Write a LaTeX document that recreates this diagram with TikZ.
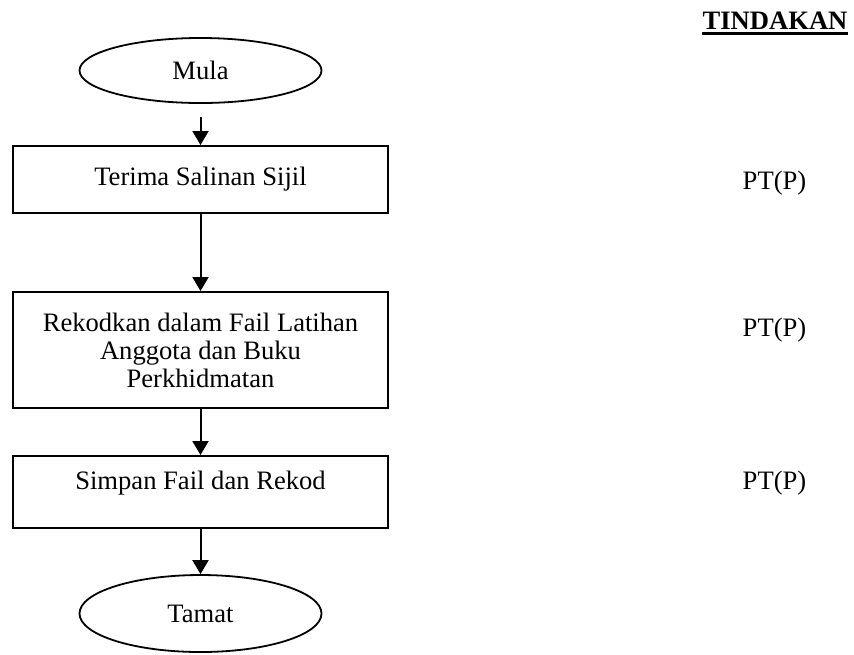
\documentclass[tikz,border=0pt]{standalone}
\usepackage{fontspec}
\setmainfont{Liberation Serif}
\usetikzlibrary{shapes.geometric,arrows.meta}
\tikzset{
  every node/.style={font=\fontsize{13.3}{14}\selectfont},
  termnode/.style={ellipse,draw,line width=0.9pt,minimum width=121pt,inner sep=0pt},
  stepbox/.style={rectangle,draw,line width=1pt,minimum width=187.5pt,inner sep=0pt,align=center},
  flowarrow/.style={line width=1pt,-{Triangle[length=7pt,width=8pt]}},
  actor/.style={inner sep=0pt}
}
\begin{document}
\begin{tikzpicture}[x=0.5pt,y=-0.5pt]
\useasboundingbox (0,0) rectangle (854,654);
% flow
\node[termnode,minimum height=32.5pt] (mula) at (200.5,70.5) {Mula};
\coordinate (a0) at (200.5,117);
\node[stepbox,minimum height=33.5pt] (box1) at (200.5,179.5) {Terima Salinan Sijil};
\node[stepbox,minimum height=58pt] (box2) at (200.5,350) {Rekodkan dalam Fail Latihan\\Anggota dan Buku\\Perkhidmatan};
\node[stepbox,minimum height=36pt] (box3) at (200.5,492) {};
\node[actor] (t3) at (200.5,483) {Simpan Fail dan Rekod};
\node[termnode,minimum height=38.5pt] (tamat) at (200.5,613.5) {Tamat};
\draw[flowarrow] (a0) -- (box1.north);
\draw[flowarrow] (box1.south) -- (box2.north);
\draw[flowarrow] (box2.south) -- (box3.north);
\draw[flowarrow] (box3.south) -- (tamat.north);
% actions column
\node[actor,anchor=base] (tind) at (775,29) {\textbf{TINDAKAN}};
\draw[line width=1.5pt] ([yshift=-2pt]tind.base west) -- ([yshift=-2pt]tind.base east);
\node[actor] (pt1) at (774.5,183) {PT(P)};
\node[actor] (pt2) at (774.5,330) {PT(P)};
\node[actor] (pt3) at (774.5,483) {PT(P)};
\end{tikzpicture}
\end{document}
